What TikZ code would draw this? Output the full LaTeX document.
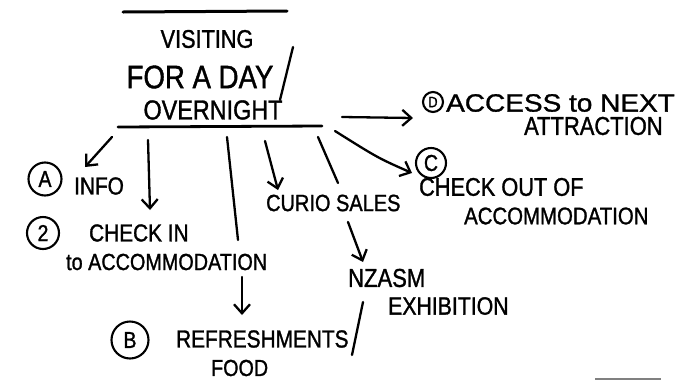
\documentclass[tikz,border=0pt]{standalone}
\usepackage{fontspec}
\newfontfamily\handfont[FakeStretch=0.85,FakeBold=1.2]{Liberation Sans}
\newfontfamily\handwidefont[FakeStretch=1.12,FakeBold=1.2]{Liberation Sans}
\newcommand{\handsize}[1]{\handfont\fontsize{#1}{#1}\selectfont}
\usetikzlibrary{arrows.meta,positioning}

\begin{document}
\begin{tikzpicture}[x=1pt,y=-1pt,line width=2.3pt,line cap=round,
>={Straight Barb[length=9pt,width=16pt,line width=2.3pt]}]
\tikzstyle{hand}=[inner sep=0pt,anchor=west,font=\handsize{24.5}]
\tikzstyle{letter}=[circle,draw=black,line width=2.1pt,inner sep=0pt,
font=\handsize{23},minimum size=32pt]
\useasboundingbox (0,0) rectangle (691,381);

\node[hand,anchor=center,font=\handsize{25.5}] at (207,39) (visit) {VISITING};
\node[hand,anchor=center,font=\handsize{32.5}] at (200,77) (forday) {FOR A DAY};
\node[hand,anchor=center,font=\handsize{27.5}] at (213,110) (overnight) {OVERNIGHT};
\coordinate (sl1) at (280,100);
\coordinate (sl2) at (293,47);
\coordinate (tl) at (123,12);
\coordinate (tr) at (287,11);
\coordinate (bl) at (118,127);
\coordinate (br) at (322,126);

\node[letter,minimum size=20pt,font=\handsize{15}] at (433,102) (cD) {D};
\node[hand,font=\handwidefont\fontsize{25}{25}\selectfont] at (445,103) (access) {ACCESS to NEXT};
\node[hand,font=\handsize{25.8}] at (523,126) (attraction) {ATTRACTION};
\node[letter,minimum size=30pt] at (431,163) (cC) {C};
\node[hand,font=\handsize{25.6}] at (418,187) (checkout) {CHECK OUT OF};
\node[hand,font=\handsize{24}] at (463,216) (accomout) {ACCOMMODATION};
\node[letter,minimum size=33pt] at (45,179) (cA) {A};
\node[hand] at (73,186) (info) {INFO};
\node[letter,minimum size=32pt] at (43,233) (c2) {2};
\node[hand] at (88,233) (checkin) {CHECK IN};
\node[hand,font=\handsize{23.3}] at (65,262) (accomin) {to ACCOMMODATION};
\node[hand,font=\handsize{23.5}] at (265,203) (curio) {CURIO SALES};
\node[hand,font=\handsize{25.9}] at (347,278) (nzasm) {NZASM};
\node[hand,font=\handsize{25}] at (387,306) (exhib) {EXHIBITION};
\node[letter,minimum size=37pt] at (130,340) (cB) {B};
\node[hand] at (175,339) (refresh) {REFRESHMENTS};
\node[hand,font=\handsize{23.2}] at (210,368) (food) {FOOD};
\coordinate (fs1) at (352,355);
\coordinate (fs2) at (363,302);

\coordinate (s1) at (112,137);
\coordinate (t1) at (85,167);
\coordinate (s2) at (148,140);
\coordinate (t2) at (150,210);
\coordinate (s3) at (227,137);
\coordinate (m3) at (238,240);
\coordinate (n3) at (242,277);
\coordinate (t3) at (242,315);
\coordinate (s4) at (265,141);
\coordinate (t4) at (278,190);
\coordinate (s5) at (318,137);
\coordinate (m5) at (338,183);
\coordinate (n5) at (348,222);
\coordinate (t5) at (363,262);
\coordinate (s6) at (342,117);
\coordinate (t6) at (413,118);
\coordinate (s7) at (335,131);
\coordinate (t7) at (412,173);
\coordinate (k7) at (378,158);
\coordinate (g1) at (595,379);
\coordinate (g2) at (661,379);

\draw[line width=3pt] (tl) -- (tr);
\draw[line width=2.8pt] (bl) -- (br);
\draw (sl1) -- (sl2);
\draw (fs1) -- (fs2);
\draw[->] (s1) -- (t1);
\draw[->] (s2) -- (t2);
\draw (s3) -- (m3);
\draw[->] (n3) -- (t3);
\draw[->] (s4) -- (t4);
\draw (s5) -- (m5);
\draw[->] (n5) -- (t5);
\draw[->] (s6) -- (t6);
\draw[->] (s7) .. controls (k7) .. (t7);
\draw[gray,line width=2pt,line cap=butt] (g1) -- (g2);

\end{tikzpicture}
\end{document}
